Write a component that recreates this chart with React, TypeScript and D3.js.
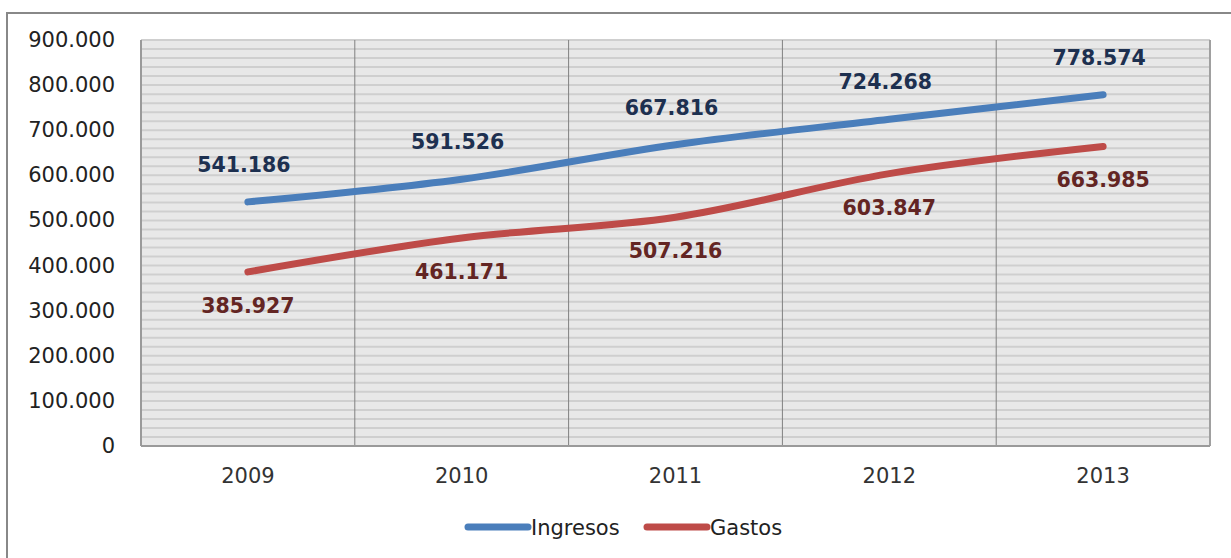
import React from "react";
import * as d3 from "d3";

const years = ["2009", "2010", "2011", "2012", "2013"];
const ingresos = [541186, 591526, 667816, 724268, 778574];
const gastos = [385927, 461171, 507216, 603847, 663985];
const yTicks = [0, 100000, 200000, 300000, 400000, 500000, 600000, 700000, 800000, 900000];
const seriesNames = ["Ingresos", "Gastos"];

const W = 1231;
const H = 558;
const FONT = "'DejaVu Sans', Verdana, sans-serif";

const locale = d3.formatLocale({ decimal: ",", thousands: ".", grouping: [3], currency: ["", ""] });
const fmt = locale.format(",d");

export default function App() {
  const left = 141, right = 1210, top = 40, bottom = 446;
  const x = d3.scaleBand<string>().domain(years).range([left, right]).padding(0);
  const y = d3.scaleLinear().domain([0, 900000]).range([bottom, top]);
  const cx = (d: string) => (x(d) as number) + x.bandwidth() / 2;

  const line = d3
    .line<number>()
    .x((_, i) => cx(years[i]))
    .y((v) => y(v))
    .curve(d3.curveCardinal.tension(0));

  const minor = d3.range(0, 900001, 20000);
  const blue = "#4a7ebb";
  const red = "#be4b48";
  const blueLabel = "#1d3050";
  const redLabel = "#632523";

  return (
    <svg width={W} height={H} style={{ position: "fixed", left: 0, top: 0, background: "#fff" }}>
      <rect x={7} y={13} width={W + 20} height={H + 20} fill="#fff" stroke="#888" strokeWidth={2} />
      <rect x={left} y={top} width={right - left} height={bottom - top} fill="#e8e8e8" />
      {minor.map((v) => (
        <line key={v} x1={left} x2={right} y1={y(v)} y2={y(v)} stroke="#cfcfcf" strokeWidth={2} />
      ))}
      {years.slice(1).map((d) => (
        <line key={d} x1={x(d)} x2={x(d)} y1={top} y2={bottom} stroke="#808080" strokeWidth={1} />
      ))}
      <line x1={left} x2={left} y1={top} y2={bottom} stroke="#9a9a9a" strokeWidth={2} />
      <line x1={right} x2={right} y1={top} y2={bottom} stroke="#a0a0a0" strokeWidth={2} />
      <line x1={left} x2={right} y1={bottom} y2={bottom} stroke="#9a9a9a" strokeWidth={2} />

      {yTicks.map((v) => (
        <text key={v} x={115} y={y(v) + 7} textAnchor="end" fontFamily={FONT} fontSize={21} fill="#222">
          {fmt(v)}
        </text>
      ))}
      {years.map((d) => (
        <text key={d} x={cx(d)} y={483} textAnchor="middle" fontFamily={FONT} fontSize={21} fill="#333">
          {d}
        </text>
      ))}

      <path d={line(ingresos) || ""} fill="none" stroke={blue} strokeWidth={7} strokeLinecap="round" />
      <path d={line(gastos) || ""} fill="none" stroke={red} strokeWidth={7} strokeLinecap="round" />

      {ingresos.map((v, i) => (
        <text key={"i" + i} x={cx(years[i]) - 4} y={y(v) - 30} textAnchor="middle" fontFamily={FONT} fontWeight="bold" fontSize={20.5} fill={blueLabel}>
          {fmt(v)}
        </text>
      ))}
      {gastos.map((v, i) => (
        <text key={"g" + i} x={cx(years[i])} y={y(v) + 41} textAnchor="middle" fontFamily={FONT} fontWeight="bold" fontSize={20.5} fill={redLabel}>
          {fmt(v)}
        </text>
      ))}

      <line x1={468} x2={528} y1={527} y2={527} stroke={blue} strokeWidth={7} strokeLinecap="round" />
      <text x={531} y={535} fontFamily={FONT} fontSize={21} fill="#222">{seriesNames[0]}</text>
      <line x1={647} x2={707} y1={527} y2={527} stroke={red} strokeWidth={7} strokeLinecap="round" />
      <text x={710} y={535} fontFamily={FONT} fontSize={21} fill="#222">{seriesNames[1]}</text>
    </svg>
  );
}
